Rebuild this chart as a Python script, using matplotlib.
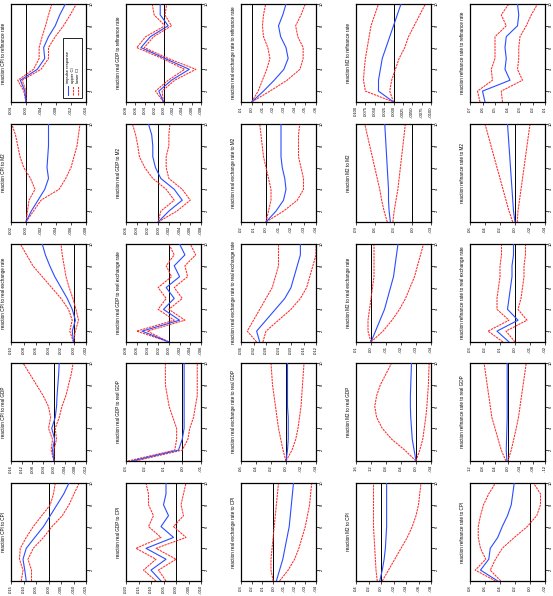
import numpy as np
import matplotlib
matplotlib.use("Agg")
import matplotlib.pyplot as plt
from matplotlib.patches import Rectangle

plt.rcParams['font.family'] = ['Liberation Sans', 'DejaVu Sans']

horizon = [1, 2, 3, 4, 5, 6, 7, 8, 9, 10]
variables = ["CPI", "real GDP", "real exchange rate", "M2", "refinance rate"]
keys = ["cpi", "gdp", "er", "m2", "rr"]
# image rows (top->bottom) are impulses, image columns (left->right) are responses
impulse_order = ["rr", "m2", "er", "gdp", "cpi"]

# ---------------- impulse: refinance rate ----------------
t_cpi_rr = [".004", ".000", "-.004", "-.008", "-.012", "-.016"]
irf_cpi_rr = [0, .0003, .0015, -.003, -.005, -.0047, -.006, -.0078, -.009, -.0105]
up_cpi_rr = [0, .0006, .0022, -.002, -.0035, -.0035, -.0043, -.0052, -.006, -.0069]
lo_cpi_rr = [0, .0000, .0010, -.004, -.006, -.006, -.0078, -.010, -.0118, -.0134]

t_gdp_rr = [".008", ".006", ".004", ".002", ".000", "-.002", "-.004", "-.006", "-.008"]
irf_gdp_rr = [0, .0010, -.0017, -.0055, -.0003, .0048, .0028, -.0010, .0007, .0007]
up_gdp_rr = [0, .0017, -.0010, -.0045, .0003, .0057, .0038, -.0003, .0020, .0024]
lo_gdp_rr = [0, .0003, -.0024, -.0069, -.0010, .0041, .0021, -.0017, -.0003, -.0007]

t_er_rr = [".01", ".00", "-.01", "-.02", "-.03", "-.04", "-.05", "-.06"]
irf_er_rr = [0, -.011, -.021, -.030, -.034, -.032, -.027, -.025, -.029, -.032]
up_er_rr = [0, -.006, -.010, -.014, -.017, -.015, -.011, -.010, -.011, -.013]
lo_er_rr = [0, -.017, -.033, -.045, -.048, -.048, -.043, -.041, -.046, -.050]

t_m2_rr = [".0100", ".0075", ".0050", ".0025", ".0000", "-.0025", "-.0050", "-.0075", "-.0100"]
irf_m2_rr = [0, .0040, .0040, .0035, .0030, .0020, .0010, .0000, -.0010, -.0020]
up_m2_rr = [0, .0075, .0080, .0078, .0075, .0070, .0065, .0060, .0050, .0040]
lo_m2_rr = [0, .0010, .0005, -.0005, -.0015, -.0030, -.0040, -.0055, -.0070, -.0085]

t_rr_rr = [".07", ".06", ".05", ".04", ".03", ".02", ".01"]
irf_rr_rr = [.058, .060, .038, .042, .041, .042, .041, .032, .031, .032]
up_rr_rr = [.062, .064, .052, .053, .050, .050, .050, .041, .045, .039]
lo_rr_rr = [.044, .045, .028, .032, .031, .031, .030, .025, .021, .016]

# ---------------- impulse: M2 ----------------
t_cpi_m2 = [".002", ".000", "-.002", "-.004", "-.006", "-.008"]
irf_cpi_m2 = [0, -.0007, -.0016, -.0025, -.0030, -.0028, -.0029, -.0030, -.0030, -.0030]
up_cpi_m2 = [0, -.0002, -.0004, -.0012, -.0006, .0003, .0008, .0011, .0014, .0019]
lo_cpi_m2 = [0, -.0010, -.0020, -.0044, -.0053, -.0060, -.0064, -.0068, -.0070, -.0072]

t_gdp_m2 = [".006", ".004", ".002", ".000", "-.002", "-.004", "-.006", "-.008"]
irf_gdp_m2 = [0, -.0020, -.0045, -.0030, -.0005, .0005, .0010, .0010, .0012, .0018]
up_gdp_m2 = [0, -.0005, -.0030, -.0015, .0010, .0025, .0035, .0038, .0042, .0048]
lo_gdp_m2 = [0, -.0035, -.0060, -.0045, -.0020, -.0015, -.0015, -.0020, -.0020, -.0022]

t_er_m2 = [".02", ".01", ".00", "-.01", "-.02", "-.03", "-.04"]
irf_er_m2 = [0, -.008, -.014, -.016, -.015, -.013, -.012, -.012, -.012, -.012]
up_er_m2 = [0, -.002, -.004, -.004, -.002, .000, .002, .003, .004, .005]
lo_er_m2 = [0, -.014, -.025, -.030, -.030, -.028, -.026, -.026, -.026, -.027]

t_m2_m2 = [".09", ".06", ".03", ".00", "-.03"]
irf_m2_m2 = [.035, .037, .038, .038, .039, .040, .041, .042, .043, .044]
up_m2_m2 = [.040, .045, .049, .052, .056, .060, .064, .068, .072, .076]
lo_m2_m2 = [.031, .029, .026, .023, .021, .019, .017, .015, .013, .011]

t_rr_m2 = [".06", ".04", ".02", ".00", "-.02", "-.04"]
irf_rr_m2 = [0, .002, .003, .004, .005, .006, .007, .008, .009, .010]
up_rr_m2 = [.003, .008, .012, .016, .020, .024, .028, .032, .036, .040]
lo_rr_m2 = [-.003, -.004, -.006, -.008, -.010, -.012, -.014, -.016, -.018, -.020]

# ---------------- impulse: real exchange rate ----------------
t_cpi_er = [".010", ".008", ".006", ".004", ".002", ".000", "-.002"]
irf_cpi_er = [0, .0002, -.0003, .0002, .0010, .0020, .0030, .0038, .0045, .0050]
up_cpi_er = [0, .0006, .0002, .0008, .0020, .0035, .0050, .0065, .0075, .0085]
lo_cpi_er = [0, -.0003, -.0008, -.0004, .0001, .0007, .0012, .0015, .0018, .0020]

t_gdp_er = [".008", ".006", ".004", ".002", ".000", "-.002", "-.004", "-.006"]
irf_gdp_er = [0, .0050, -.0020, .0010, -.0010, .0005, -.0020, -.0010, -.0030, -.0020]
up_gdp_er = [0, .0060, -.0010, .0020, .0005, .0020, -.0005, .0005, -.0010, .0000]
lo_gdp_er = [0, .0040, -.0030, .0000, -.0025, -.0010, -.0035, -.0030, -.0050, -.0040]

t_er_er = [".036", ".032", ".028", ".024", ".020", ".016", ".012"]
irf_er_er = [.030, .031, .028, .025, .022, .020, .019, .018, .017, .017]
up_er_er = [.031, .034, .032, .030, .028, .026, .025, .024, .024, .024]
lo_er_er = [.029, .028, .024, .020, .017, .015, .014, .013, .012, .012]

t_m2_er = [".01", ".00", "-.01", "-.02", "-.03", "-.04"]
irf_m2_er = [0, -.003, -.006, -.009, -.011, -.013, -.015, -.016, -.017, -.018]
up_m2_er = [0, .002, .002, .001, .000, -.001, -.002, -.002, -.002, -.002]
lo_m2_er = [0, -.008, -.014, -.019, -.023, -.026, -.029, -.031, -.033, -.035]

t_rr_er = [".03", ".02", ".01", ".00", "-.01", "-.02"]
irf_rr_er = [.004, .012, -.002, .005, .004, .003, .002, .002, .001, .001]
up_rr_er = [.008, .018, .004, .012, .012, .011, .010, .010, .009, .009]
lo_rr_er = [.000, .006, -.008, -.002, -.004, -.005, -.006, -.006, -.007, -.007]

# ---------------- impulse: real GDP ----------------
t_cpi_gdp = [".016", ".012", ".008", ".004", ".000", "-.004", "-.008", "-.012"]
irf_cpi_gdp = [0, .0005, -.0003, .0008, -.0005, -.0010, -.0012, -.0015, -.0018, -.0020]
up_cpi_gdp = [0, .0010, .0005, .0020, .0012, .0020, .0040, .0065, .0090, .0115]
lo_cpi_gdp = [0, .0000, -.0010, -.0005, -.0020, -.0030, -.0045, -.0055, -.0065, -.0072]

t_gdp_gdp = [".03", ".02", ".01", ".00", "-.01"]
irf_gdp_gdp = [.027, .002, .000, -.001, -.001, -.001, -.001, -.001, -.001, -.001]
up_gdp_gdp = [.029, .004, .003, .003, .005, .007, .008, .009, .009, .009]
lo_gdp_gdp = [.025, .000, -.003, -.004, -.006, -.007, -.008, -.008, -.008, -.008]

t_er_gdp = [".06", ".04", ".02", ".00", "-.02", "-.04"]
irf_er_gdp = [0, -.002, -.003, -.003, -.003, -.002, -.002, -.002, -.002, -.002]
up_er_gdp = [0, .004, .007, .010, .012, .014, .016, .018, .019, .020]
lo_er_gdp = [0, -.008, -.013, -.016, -.018, -.020, -.021, -.022, -.023, -.024]

t_m2_gdp = [".16", ".12", ".08", ".04", ".00", "-.04"]
irf_m2_gdp = [0, .005, .010, .012, .014, .015, .015, .014, .013, .012]
up_m2_gdp = [0, .030, .065, .090, .105, .110, .105, .095, .080, .065]
lo_m2_gdp = [0, -.010, -.018, -.022, -.026, -.029, -.031, -.033, -.034, -.035]

t_rr_gdp = [".12", ".08", ".04", ".00", "-.04", "-.08", "-.12"]
irf_rr_gdp = [.002, .004, .003, .002, .001, .001, .001, .001, .001, .001]
up_rr_gdp = [.005, .020, .030, .040, .050, .055, .060, .065, .070, .075]
lo_rr_gdp = [-.001, -.012, -.020, -.028, -.035, -.040, -.045, -.050, -.055, -.060]

# ---------------- impulse: CPI ----------------
t_cpi_cpi = [".015", ".010", ".005", ".000", "-.005", "-.010", "-.015"]
irf_cpi_cpi = [.0089, .0095, .0102, .0089, .0055, .0020, -.0007, -.0034, -.0061, -.0082]
up_cpi_cpi = [.0109, .0102, .0116, .0113, .0089, .0061, .0027, -.0007, -.0020, -.0027]
lo_cpi_cpi = [.0068, .0068, .0082, .0061, .0020, -.0014, -.0055, -.0082, -.0102, -.0123]

t_gdp_cpi = [".020", ".015", ".010", ".005", ".000", "-.005", "-.010"]
irf_gdp_cpi = [.006, .010, .004, .012, .001, .006, .003, .005, .004, .004]
up_gdp_cpi = [.008, .013, .008, .016, .006, .011, .009, .011, .011, .012]
lo_gdp_cpi = [.004, .007, .000, .008, -.004, .001, -.003, -.002, -.003, -.004]

t_er_cpi = [".03", ".02", ".01", ".00", "-.01", "-.02", "-.03", "-.04"]
irf_er_cpi = [-.003, -.006, -.009, -.011, -.013, -.015, -.016, -.017, -.018, -.019]
up_er_cpi = [.000, .002, .002, .001, .000, -.001, -.002, -.003, -.004, -.005]
lo_er_cpi = [-.006, -.014, -.020, -.024, -.027, -.030, -.032, -.034, -.035, -.036]

t_m2_cpi = [".04", ".02", ".00", "-.02", "-.04", "-.06", "-.08"]
irf_m2_cpi = [.002, -.002, -.005, -.007, -.008, -.009, -.009, -.009, -.009, -.009]
up_m2_cpi = [.006, .008, .009, .010, .011, .012, .012, .012, .012, .012]
lo_m2_cpi = [-.002, -.012, -.022, -.032, -.042, -.050, -.056, -.060, -.062, -.064]

t_rr_cpi = [".08", ".06", ".04", ".02", ".00", "-.02"]
irf_rr_cpi = [.043, .066, .055, .053, .043, .037, .030, .025, .023, .021]
up_rr_cpi = [.046, .073, .059, .066, .069, .069, .066, .062, .055, .046]
lo_rr_cpi = [.039, .053, .046, .037, .021, .0036, -.009, -.014, -.014, -.0046]

g = globals()

W, H = 553, 596
fig = plt.figure(figsize=(W / 100, H / 100), dpi=100)

box_w, box_h = 75, 98
col_left = [11, 126, 241, 356, 470]
row_top = [4, 124, 244, 363, 483]

blue = "#2b4cff"
red = "#ff2b2b"
dash = (0, (2.2, 0.8))

for r, imp in enumerate(impulse_order):
    for c, resp in enumerate(keys):
        name = f"{resp}_{imp}"
        ticks = g["t_" + name]
        irf = g["irf_" + name]
        up = g["up_" + name]
        lo = g["lo_" + name]
        L = col_left[c]
        T = row_top[r]
        ax = fig.add_axes([L / W, 1 - (T + box_h) / H, box_w / W, box_h / H])
        tv = [float(t) for t in ticks]
        ax.axvline(0, color="black", lw=0.7, zorder=1)
        ax.plot(up, horizon, color=red, lw=0.75, ls=dash, zorder=2)
        ax.plot(lo, horizon, color=red, lw=0.75, ls=dash, zorder=2)
        ax.plot(irf, horizon, color=blue, lw=0.8, zorder=3)
        ax.set_xlim(tv[0], tv[-1])
        ax.set_ylim(1, 10)
        ax.set_xticks(tv)
        ax.set_xticklabels(ticks, rotation=90, fontsize=3.0)
        ax.yaxis.tick_right()
        ax.set_yticks([2, 4, 6, 8, 10])
        ax.set_yticklabels(["2", "4", "6", "8", "10"], rotation=90, fontsize=3.0, va="center")
        ax.tick_params(length=2, width=0.5, pad=1, direction="out")
        for s in ax.spines.values():
            s.set_linewidth(0.9)
        title = f"reaction {variables[c]} to {variables[keys.index(imp)]}"
        ax.text(-7.5 / box_w, 0.5, title, rotation=90, transform=ax.transAxes,
                ha="center", va="center", fontsize=3.3)
        if r == 0 and c == 0:
            # legend drawn inside the first panel
            ax.add_patch(Rectangle((0.69, 0.04), 0.26, 0.61, transform=ax.transAxes,
                                   fill=True, facecolor="white", edgecolor="black",
                                   lw=0.6, zorder=4))
            entries = [("impulse response", blue, "-"),
                       ("upper CI", red, dash),
                       ("lower CI", red, dash)]
            for i, (lab, colr, ls) in enumerate(entries):
                xx = 0.76 + i * 0.065
                ax.plot([xx, xx], [0.07, 0.16], transform=ax.transAxes, color=colr,
                        lw=0.75, ls=ls, zorder=5)
                ax.text(xx, 0.19, lab, rotation=90, transform=ax.transAxes,
                        ha="center", va="bottom", fontsize=3.0, zorder=5)

fig.savefig("out.png", dpi=100)
